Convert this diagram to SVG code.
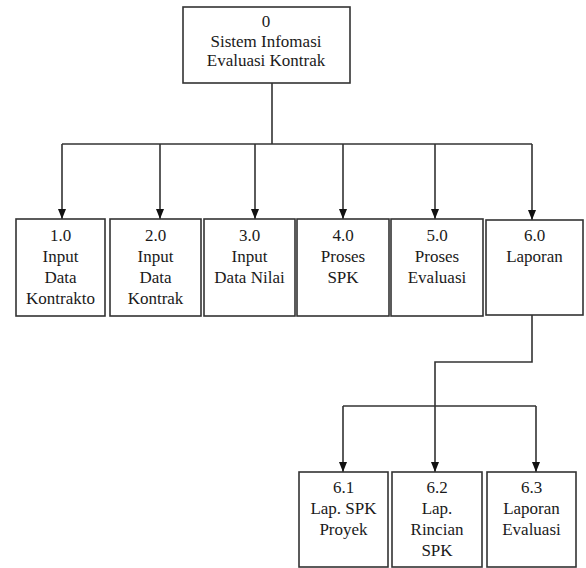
<svg xmlns="http://www.w3.org/2000/svg" width="586" height="568" viewBox="0 0 586 568">
<style>
.box{fill:#fff;stroke:#333;stroke-width:1.6}
text{font-family:'Liberation Serif','DejaVu Serif',serif;font-size:17px;fill:#1a1a1a;text-anchor:middle}
.c{fill:none;stroke:#333;stroke-width:1.6}
</style>
<defs>
<marker id="ah" markerWidth="10" markerHeight="8" refX="10" refY="4" orient="auto" markerUnits="userSpaceOnUse" viewBox="0 0 10 8">
<path d="M0,0 L10,4 L0,8 Z" fill="#111"/>
</marker>
</defs>
<rect width="586" height="568" fill="#fff"/>
<g id="connectors">
<path class="c" d="M272,83 V144"/>
<path class="c" d="M62,144 H532"/>
<path class="c" d="M62,144 V219" marker-end="url(#ah)"/>
<path class="c" d="M160,144 V219" marker-end="url(#ah)"/>
<path class="c" d="M255,144 V219" marker-end="url(#ah)"/>
<path class="c" d="M343,144 V219" marker-end="url(#ah)"/>
<path class="c" d="M435,144 V219" marker-end="url(#ah)"/>
<path class="c" d="M532,144 V220" marker-end="url(#ah)"/>
<path class="c" d="M532,315 V362 H435 V472" marker-end="url(#ah)"/>
<path class="c" d="M343,406 H536"/>
<path class="c" d="M343,406 V472" marker-end="url(#ah)"/>
<path class="c" d="M536,406 V472" marker-end="url(#ah)"/>
</g>
<g id="n0">
<rect class="box" x="183" y="7" width="167" height="76"/>
<text x="266" y="27">0</text>
<text x="266" y="47">Sistem Infomasi</text>
<text x="266" y="66">Evaluasi Kontrak</text>
</g>
<g id="n1">
<rect class="box" x="16" y="219" width="89" height="97"/>
<text x="60.5" y="241">1.0</text>
<text x="60.5" y="262">Input</text>
<text x="60.5" y="283">Data</text>
<text x="60.5" y="304">Kontrakto</text>
</g>
<g id="n2">
<rect class="box" x="110" y="219" width="91" height="97"/>
<text x="155.5" y="241">2.0</text>
<text x="155.5" y="262">Input</text>
<text x="155.5" y="283">Data</text>
<text x="155.5" y="304">Kontrak</text>
</g>
<g id="n3">
<rect class="box" x="204" y="219" width="91" height="97"/>
<text x="249.5" y="241">3.0</text>
<text x="249.5" y="262">Input</text>
<text x="249.5" y="283">Data Nilai</text>
</g>
<g id="n4">
<rect class="box" x="297" y="219" width="92" height="97"/>
<text x="343" y="241">4.0</text>
<text x="343" y="262">Proses</text>
<text x="343" y="283">SPK</text>
</g>
<g id="n5">
<rect class="box" x="391" y="219" width="92" height="97"/>
<text x="437" y="241">5.0</text>
<text x="437" y="262">Proses</text>
<text x="437" y="283">Evaluasi</text>
</g>
<g id="n6">
<rect class="box" x="486" y="220" width="97" height="95"/>
<text x="534.5" y="241">6.0</text>
<text x="534.5" y="262">Laporan</text>
</g>
<g id="n61">
<rect class="box" x="299" y="472" width="89" height="95"/>
<text x="343.5" y="493">6.1</text>
<text x="343.5" y="514">Lap. SPK</text>
<text x="343.5" y="535">Proyek</text>
</g>
<g id="n62">
<rect class="box" x="392" y="472" width="90" height="95"/>
<text x="437" y="493">6.2</text>
<text x="437" y="514">Lap.</text>
<text x="437" y="535">Rincian</text>
<text x="437" y="556">SPK</text>
</g>
<g id="n63">
<rect class="box" x="487" y="472" width="89" height="95"/>
<text x="531.5" y="493">6.3</text>
<text x="531.5" y="514">Laporan</text>
<text x="531.5" y="535">Evaluasi</text>
</g>
</svg>
